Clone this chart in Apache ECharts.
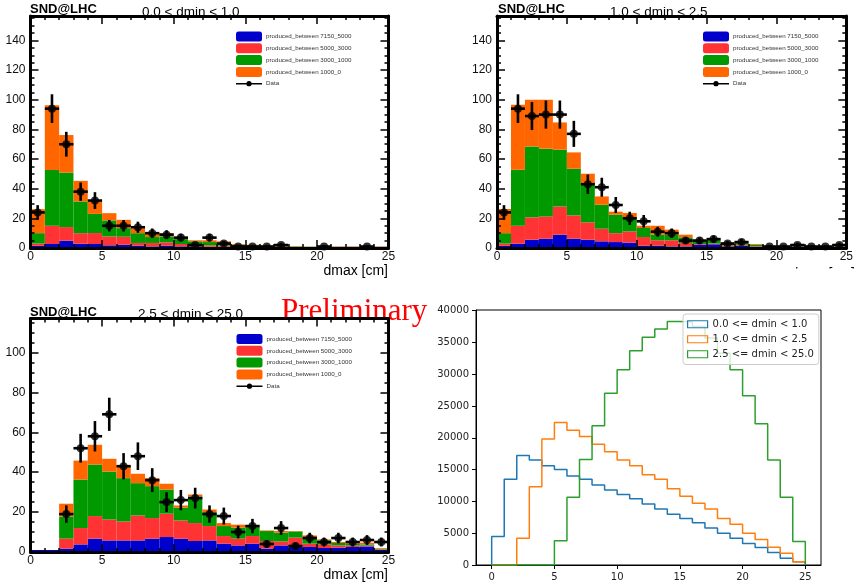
<!DOCTYPE html>
<html>
<head>
<meta charset="utf-8">
<script src="https://cdn.jsdelivr.net/npm/echarts@6/dist/echarts.min.js"></script>
<style>
html, body { margin: 0; padding: 0; background: #fff; }
#chart { width: 856px; height: 588px; }
</style>
</head>
<body>
<div id="chart"></div>
<script>
// stack component names (bottom to top) and colours
var stackNames = ['produced_between 7150_5000', 'produced_between 5000_3000', 'produced_between 3000_1000', 'produced_between 1000_0'];
var stackColors = ['#0000cc', '#ff3333', '#009900', '#ff6600'];

// 0.0 < dmin < 1.0 : cumulative stack tops per 1 cm bin of dmax
var tlBlue   = [1.5, 2.7, 4.9, 2.9, 2.7, 1.8, 2.2, 1.6, 1.1, 1.6, 1.1, 1.1, 0.9, 0.9, 0.7, 0.7, 0.6, 0.7, 0.6, 0.5, 0.7, 0.7, 0.7, 0.7, 0.7];
var tlRed    = [3, 15, 14.1, 10, 10.1, 7.8, 7.6, 3.4, 3.4, 3.8, 2.7, 2.2, 1.8, 1.6, 1.1, 1.0, 0.9, 1.2, 0.8, 0.7, 0.9, 0.9, 0.9, 0.9, 0.9];
var tlGreen  = [10, 52.6, 50.9, 31.4, 23, 18.6, 13.4, 10, 7.4, 7.8, 6, 4.5, 4, 3.6, 2.2, 1.8, 1.3, 2.0, 1.1, 0.9, 1.0, 1.0, 1.0, 1.0, 1.0];
var tlOrange = [26.2, 96.3, 76.2, 45.3, 31.4, 23.5, 19, 13.2, 10, 10, 7.4, 5.2, 5.2, 4.5, 2.7, 2.2, 1.6, 2.7, 1.3, 1.0, 1.1, 1.1, 1.1, 1.1, 1.1];
var tlData   = [24, 94, 70, 38, 32, 15, 15, 14, 10, 9, 7, 2, 7, 3, 1, 1, 1, 2, null, null, 1, null, null, 1, null];

// 1.0 < dmin < 2.5
var trBlue   = [1.5, 2.9, 5.6, 6.3, 9, 6.3, 5.6, 4.5, 4, 3.6, 1.6, 1.6, 1.1, 1.1, 2.2, 2.5, 1.1, 1.6, 0.9, 0.7, 0.6, 0.7, 0.7, 0.7, 0.7];
var trRed    = [3, 15, 20.7, 21.3, 28, 22, 17.3, 13, 10, 11.2, 7.4, 5.2, 5.2, 3.4, 2.7, 3.0, 1.8, 2.2, 1.2, 0.9, 0.8, 1.0, 1.0, 1.0, 1.0];
var trGreen  = [10, 52.8, 68.5, 67, 66.3, 53.5, 42.7, 29.2, 22.5, 20.9, 13.5, 9, 9, 7.2, 5.2, 6, 2.9, 4, 2.2, 1.1, 1.2, 1.3, 1.2, 1.2, 1.2];
var trOrange = [26.3, 96.6, 100, 100, 84.7, 64.5, 50.1, 34.8, 24.5, 23.6, 15, 15, 12.4, 9, 5.6, 6.7, 3.8, 4.5, 2.7, 1.3, 1.3, 1.5, 1.4, 1.3, 1.3];
var trData   = [24, 94, 89, 90, 90, 77, 43, 41, 29, 20, 18, 11, 10, 5, 5, 6, 3, 4, null, 1, 1, 2, 1, 1, 2];

// 2.5 < dmin < 25.0
var blBlue   = [1, 1, 1.7, 3.8, 6.7, 5.8, 5.8, 5.8, 6.7, 7.5, 6.7, 5.5, 5.8, 4.2, 3.3, 4.2, 1.7, 3.3, 2.8, 2.5, 2, 2.2, 2.5, 2.8, 1];
var blRed    = [1, 1, 6.7, 12, 18, 16.3, 15.3, 18.3, 17, 19.2, 15.8, 14.5, 13, 8, 6.7, 8, 5.5, 5.3, 7.2, 4.2, 3.8, 3.3, 3.3, 3.2, 1.3];
var blGreen  = [1, 1, 17.8, 36.3, 43.8, 40.3, 37, 34.5, 33, 31.3, 22.2, 27.8, 20, 13, 12.2, 12.5, 10.5, 9.7, 10.3, 7.5, 5.8, 4.5, 4.2, 3.8, 1.7];
var blOrange = [1, 1, 24.2, 45.8, 53.7, 46.7, 43, 39.2, 37, 34.2, 23.3, 28.8, 21.3, 14.5, 13.7, 13.3, 10.8, 10.5, 10.5, 8.3, 6.3, 5, 4.7, 4.7, 2];
var blData   = [null, null, 19, 52, 58, 69, 43, 48, 36, 25, 26, 27, 19, 18, 10, 13, 4, 12, 3, 7, 5, 7, 5, 6, 5];

// simulation histograms (step), one value per 1 cm bin
var simNames  = ['0.0 <= dmin < 1.0', '1.0 <= dmin < 2.5', '2.5 <= dmin < 25.0'];
var simColors = ['#1f77b4', '#ff7f0e', '#2ca02c'];
var simBlue   = [4500, 13500, 17200, 16500, 15600, 15000, 14000, 13500, 12600, 11800, 11100, 10400, 9600, 8800, 8000, 7300, 6650, 5800, 5000, 4200, 3400, 2750, 1950, 1050, 500];
var simOrange = [0, 0, 4200, 12300, 19800, 22400, 21200, 20200, 19000, 17800, 16500, 15600, 14200, 13500, 12000, 10800, 9700, 8800, 7300, 6400, 5000, 4000, 2800, 1850, 500];
var simGreen  = [0, 0, 0, 0, 0, 3800, 10650, 16600, 21900, 27000, 30700, 33700, 35800, 37100, 38300, 38200, 37500, 35700, 33300, 30700, 26600, 22200, 16500, 10650, 3700];

var rootTicksX = 5, rootTicksY = 20;
var simTicksX = [0, 5, 10, 15, 20, 25];
var simTicksY = [0, 5000, 10000, 15000, 20000, 25000, 30000, 35000, 40000];

var chart = echarts.init(document.getElementById('chart'));

function stackItem(params, api) {
    var p0 = api.coord([api.value(0), api.value(3)]);
    var p1 = api.coord([api.value(1), api.value(2)]);
    return {
        type: 'rect',
        shape: { x: p0[0], y: Math.min(p0[1], p1[1]), width: p1[0] - p0[0], height: Math.abs(p1[1] - p0[1]) },
        style: { fill: api.visual('color') }
    };
}

function errItem(params, api) {
    var x = api.value(0), y = api.value(1), e = api.value(2);
    var l = api.coord([x - 0.5, y]), r = api.coord([x + 0.5, y]);
    var t = api.coord([x, y + e]), b = api.coord([x, Math.max(0, y - e)]);
    return {
        type: 'group',
        children: [
            { type: 'line', shape: { x1: l[0], y1: l[1], x2: r[0], y2: r[1] }, style: { stroke: '#000', lineWidth: 2.6 } },
            { type: 'line', shape: { x1: t[0], y1: t[1], x2: b[0], y2: b[1] }, style: { stroke: '#000', lineWidth: 2.6 } }
        ]
    };
}

function rootAxis(kind, gi, pos, max) {
    var isX = kind === 'x';
    return {
        type: 'value', gridIndex: gi, position: pos, z: 5,
        min: 0, max: max, interval: isX ? rootTicksX : rootTicksY,
        axisLine: { show: true, onZero: false, lineStyle: { color: '#000', width: 3 } },
        axisTick: { show: true, inside: true, length: 8, lineStyle: { color: '#000', width: 1.5 } },
        minorTick: { show: true, splitNumber: isX ? 5 : 4, length: 4, lineStyle: { color: '#000', width: 1.5 } },
        axisLabel: {
            show: pos === 'bottom' || pos === 'left', showMaxLabel: isX,
            fontFamily: 'Liberation Sans', fontSize: 12, color: '#111', margin: isX ? 3 : 5
        },
        splitLine: { show: false }
    };
}

var dataIcon = 'path://M0,0L0.01,0L0,0.01Z M25.99,10L26,10L26,9.99Z M0,4.2L26,4.2L26,5.8L0,5.8Z M15.6,5A2.6,2.6 0 1 1 10.4,5A2.6,2.6 0 1 1 15.6,5Z';

function rootLegend(left, top) {
    var items = stackNames.map(function (n) { return { name: n, icon: 'roundRect' }; });
    items.push({ name: 'Data', icon: dataIcon });
    return {
        left: left, top: top, orient: 'vertical', padding: 0,
        itemWidth: 26, itemHeight: 10, itemGap: 1.8, selectedMode: false,
        textStyle: { fontFamily: 'Liberation Sans', fontSize: 6.2, color: '#333', padding: [0, 0, 0, -1] },
        data: items
    };
}

var series = [];
function addRootPanel(gi, layers, data) {
    layers.forEach(function (tops, k) {
        series.push({
            type: 'custom', name: stackNames[k], xAxisIndex: 2 * gi, yAxisIndex: 2 * gi, z: 2,
            itemStyle: { color: stackColors[k] },
            renderItem: stackItem,
            data: tops.map(function (v, i) { return [i, i + 1, k === 0 ? 0 : layers[k - 1][i], v]; })
        });
    });
    var pts = [];
    data.forEach(function (v, i) { if (v !== null) pts.push([i + 0.5, v, Math.sqrt(v)]); });
    series.push({
        type: 'custom', name: 'Data', xAxisIndex: 2 * gi, yAxisIndex: 2 * gi, z: 3,
        itemStyle: { color: '#000' }, renderItem: errItem, data: pts
    });
    series.push({
        type: 'scatter', name: 'Data', xAxisIndex: 2 * gi, yAxisIndex: 2 * gi, z: 4,
        symbol: 'circle', symbolSize: 8, itemStyle: { color: '#000' },
        data: pts.map(function (p) { return [p[0], p[1]]; })
    });
}
addRootPanel(0, [tlBlue, tlRed, tlGreen, tlOrange], tlData);
addRootPanel(1, [trBlue, trRed, trGreen, trOrange], trData);
addRootPanel(2, [blBlue, blRed, blGreen, blOrange], blData);

function stepPoints(vals) {
    var pts = [[0, 0]];
    vals.forEach(function (v, i) { pts.push([i, v]); pts.push([i + 1, v]); });
    pts.push([vals.length, 0]);
    return pts;
}
[simBlue, simOrange, simGreen].forEach(function (vals, k) {
    series.push({
        type: 'line', name: simNames[k], xAxisIndex: 6, yAxisIndex: 6, z: 2,
        showSymbol: false, symbol: 'none',
        lineStyle: { color: simColors[k], width: 1.5 },
        itemStyle: { color: simColors[k] },
        data: stepPoints(vals)
    });
});

var xAxes = [], yAxes = [];
var rootMax = [156.5, 156.5, 117];
for (var g = 0; g < 3; g++) {
    xAxes.push(rootAxis('x', g, 'bottom', 25));
    xAxes.push(rootAxis('x', g, 'top', 25));
    yAxes.push(rootAxis('y', g, 'left', rootMax[g]));
    yAxes.push(rootAxis('y', g, 'right', rootMax[g]));
}
xAxes.push({
    type: 'value', gridIndex: 3, min: -1.25, max: 26.25,
    axisLine: { show: true, onZero: false, lineStyle: { color: '#000', width: 1 } },
    axisTick: { show: true, customValues: simTicksX, length: 4, lineStyle: { color: '#000', width: 1 } },
    axisLabel: { customValues: simTicksX, fontFamily: 'DejaVu Sans', fontSize: 10, color: '#222', margin: 7,
        formatter: function (v) { return String(v); } },
    splitLine: { show: false }
});
yAxes.push({
    type: 'value', gridIndex: 3, min: 0, max: 40100,
    axisLine: { show: true, onZero: false, lineStyle: { color: '#000', width: 1 } },
    axisTick: { show: true, customValues: simTicksY, length: 4, lineStyle: { color: '#000', width: 1 } },
    axisLabel: { customValues: simTicksY, fontFamily: 'DejaVu Sans', fontSize: 10, color: '#222', margin: 7,
        formatter: function (v) { return String(v); } },
    splitLine: { show: false }
});

var titleFont = '13.5px "Liberation Sans"';
var sndFont = 'bold 13px "Liberation Sans"';

var option = {
    animation: false,
    backgroundColor: '#fff',
    grid: [
        { left: 30.5, top: 16, width: 358, height: 232 },
        { left: 497, top: 16, width: 358, height: 232 },
        { left: 30.5, top: 318.5, width: 358, height: 233.5 },
        { left: 476, top: 310, width: 345, height: 255, show: true, borderColor: '#000', borderWidth: 1 }
    ],
    xAxis: xAxes,
    yAxis: yAxes,
    legend: [
        rootLegend(236, 31.5),
        rootLegend(703, 31.5),
        rootLegend(236.5, 334),
        {
            left: 683, top: 314, orient: 'vertical', padding: [3, 5, 3, 4],
            itemWidth: 20, itemHeight: 7, itemGap: 0.5, icon: 'rect', selectedMode: false,
            backgroundColor: 'rgba(255,255,255,0.8)', borderColor: '#ccc', borderWidth: 1, borderRadius: 3,
            textStyle: { fontFamily: 'DejaVu Sans', fontSize: 10, color: '#222', lineHeight: 14.5 },
            data: simNames.map(function (n, k) {
                return { name: n, itemStyle: { color: 'rgba(255,255,255,0)', borderColor: simColors[k], borderWidth: 1.2 } };
            })
        }
    ],
    graphic: [
        { type: 'text', x: 30, y: 9.5, style: { text: 'SND@LHC', font: sndFont, fill: '#000', verticalAlign: 'middle' } },
        { type: 'text', x: 142, y: 12, style: { text: '0.0 < dmin < 1.0', font: titleFont, fill: '#000', verticalAlign: 'middle' } },
        { type: 'text', x: 388, y: 271.5, style: { text: 'dmax [cm]', font: '14px "Liberation Sans"', fill: '#000', align: 'right', verticalAlign: 'middle' } },
        { type: 'text', x: 498, y: 9.5, style: { text: 'SND@LHC', font: sndFont, fill: '#000', verticalAlign: 'middle' } },
        { type: 'text', x: 610, y: 12, style: { text: '1.0 < dmin < 2.5', font: titleFont, fill: '#000', verticalAlign: 'middle' } },
        { type: 'text', x: 855, y: 274, style: { text: 'dmax [cm]', font: '14px "Liberation Sans"', fill: '#000', align: 'right', verticalAlign: 'middle' } },
        { type: 'rect', z: 10, shape: { x: 770, y: 268.5, width: 86, height: 20 }, style: { fill: '#fff' } },
        { type: 'text', x: 30, y: 312.5, style: { text: 'SND@LHC', font: sndFont, fill: '#000', verticalAlign: 'middle' } },
        { type: 'text', x: 138, y: 314.5, style: { text: '2.5 < dmin < 25.0', font: titleFont, fill: '#000', verticalAlign: 'middle' } },
        { type: 'text', x: 388, y: 575, style: { text: 'dmax [cm]', font: '14px "Liberation Sans"', fill: '#000', align: 'right', verticalAlign: 'middle' } },
        { type: 'text', x: 281, y: 312, style: { text: 'Preliminary', font: '31px "Liberation Serif"', fill: '#ff0000', verticalAlign: 'middle' } }
    ],
    series: series
};
chart.setOption(option);
</script>
</body>
</html>
